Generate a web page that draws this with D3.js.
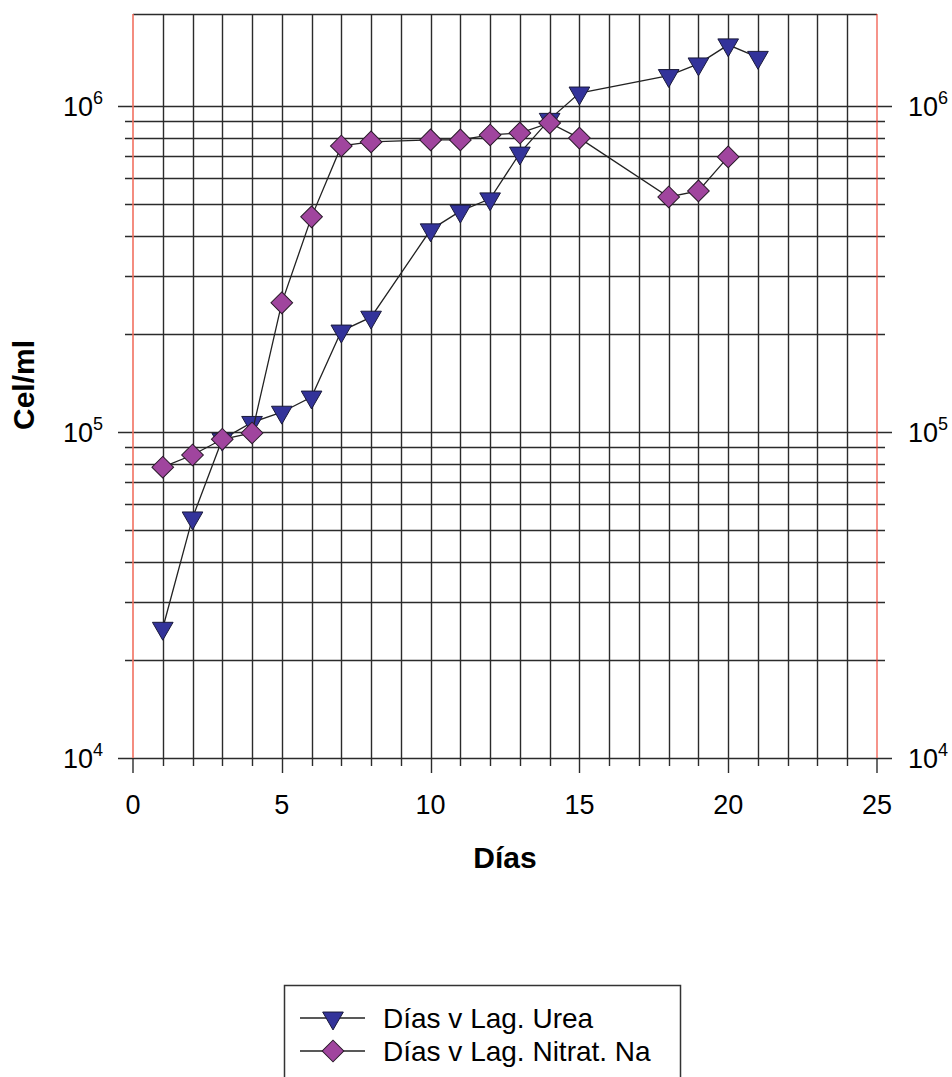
<!DOCTYPE html>
<html>
<head>
<meta charset="utf-8">
<script src="https://cdn.jsdelivr.net/npm/d3@7"></script>
<style>
  body { margin: 0; background: #fff; }
  text { font-family: "Liberation Sans", Arial, sans-serif; fill: #000; }
</style>
</head>
<body>
<div id="chart"></div>
<script>
/* Cel/ml vs days, log scale, two cultures */

const dias = [1, 2, 3, 4, 5, 6, 7, 8, 10, 11, 12, 13, 14, 15, 18, 19, 20, 21];
const urea = [2.5e4, 5.45e4, 9.5e4, 1.07e5, 1.15e5, 1.28e5, 2.04e5, 2.25e5, 4.17e5, 4.76e5,
              5.19e5, 7.17e5, 9.1e5, 1.096e6, 1.24e6, 1.346e6, 1.54e6, 1.41e6];

const diasNitrat = [1, 2, 3, 4, 5, 6, 7, 8, 10, 11, 12, 13, 14, 15, 18, 19, 20];
const nitrat = [7.8e4, 8.5e4, 9.5e4, 9.93e4, 2.49e5, 4.57e5, 7.54e5, 7.76e5, 7.87e5, 7.87e5,
                8.15e5, 8.26e5, 8.87e5, 7.97e5, 5.26e5, 5.49e5, 6.98e5];

const xTicks = [0, 5, 10, 15, 20, 25];
const yMajor = [4, 5, 6]; // exponents of 10
const seriesNames = ["Días v Lag. Urea", "Días v Lag. Nitrat. Na"];

const width = 952, height = 1077,
      margin = ({ top: 14, right: 75, bottom: 319, left: 133 });

let svg = d3.select("#chart")
    .append("svg")
    .attr("width", width)
    .attr("height", height);

let x = d3.scaleLinear()
    .domain([0, 25])
    .range([margin.left, width - margin.right]);

let y = d3.scaleLog()
    .domain([1e4, 1.915e6])
    .range([height - margin.bottom, margin.top]);

const x0 = x(0), x1 = x(25);

// horizontal grid + ticks on both sides
let yLines = [];
for (let e = 4; e <= 6; e++) {
    for (let m = 1; m <= 9; m++) {
        let v = m * Math.pow(10, e);
        if (v <= y.domain()[1]) yLines.push({ v: v, major: m === 1 });
    }
}
svg.append("g")
    .selectAll("line")
    .data(yLines)
    .join("line")
    .attr("x1", d => x0 - (d.major ? 15 : 8))
    .attr("x2", d => x1 + (d.major ? 15 : 8))
    .attr("y1", d => Math.round(y(d.v)) + 0.5)
    .attr("y2", d => Math.round(y(d.v)) + 0.5)
    .attr("stroke", "#2b2b2b")
    .attr("stroke-width", 1.4);

// vertical grid + ticks below
svg.append("g")
    .selectAll("line")
    .data(d3.range(1, 25))
    .join("line")
    .attr("x1", d => Math.round(x(d)) + 0.5)
    .attr("x2", d => Math.round(x(d)) + 0.5)
    .attr("y1", y.range()[1])
    .attr("y2", d => y.range()[0] + (d % 5 === 0 ? 15 : 8))
    .attr("stroke", "#2b2b2b")
    .attr("stroke-width", 1.4);

// top border
svg.append("line")
    .attr("x1", x0).attr("x2", x1)
    .attr("y1", margin.top + 0.5).attr("y2", margin.top + 0.5)
    .attr("stroke", "#2b2b2b")
    .attr("stroke-width", 1.6);

// red side lines (x = 0 and x = 25)
svg.append("g")
    .selectAll("line")
    .data([0, 25])
    .join("line")
    .attr("x1", d => x(d)).attr("x2", d => x(d))
    .attr("y1", margin.top)
    .attr("y2", y.range()[0])
    .attr("stroke", (d, i) => i === 0 ? "#f27060" : "#ee3b2b")
    .attr("stroke-width", (d, i) => i === 0 ? 1.6 : 1.1);
svg.append("g")
    .selectAll("line")
    .data([0, 25])
    .join("line")
    .attr("x1", d => x(d)).attr("x2", d => x(d))
    .attr("y1", y.range()[0])
    .attr("y2", y.range()[0] + 15)
    .attr("stroke", "#2b2b2b")
    .attr("stroke-width", 1.4);

// x tick labels
svg.append("g")
    .selectAll("text")
    .data(xTicks)
    .join("text")
    .attr("x", d => x(d))
    .attr("y", 814)
    .attr("text-anchor", "middle")
    .style("font-size", "27px")
    .text(d => d);

// y tick labels, left and right
function powLabel(g, side) {
    let t = g.selectAll("text." + side)
        .data(yMajor)
        .join("text")
        .attr("class", side)
        .attr("x", side === "left" ? x0 - 30 : x1 + 31)
        .attr("y", d => y(Math.pow(10, d)) + 10)
        .attr("text-anchor", side === "left" ? "end" : "start")
        .style("font-size", "27px");
    t.append("tspan").text("10");
    t.append("tspan")
        .attr("dy", -12)
        .style("font-size", "18px")
        .text(d => d);
}
let yl = svg.append("g");
powLabel(yl, "left");
powLabel(yl, "right");

// axis titles
svg.append("text")
    .attr("x", (x0 + x1) / 2)
    .attr("y", 868)
    .attr("text-anchor", "middle")
    .style("font-size", "30px")
    .style("font-weight", "bold")
    .text("Días");

svg.append("text")
    .attr("transform", "translate(34,385) rotate(-90)")
    .attr("text-anchor", "middle")
    .style("font-size", "30px")
    .style("font-weight", "bold")
    .text("Cel/ml");

// series
const triangle = d3.symbol().type(d3.symbolTriangle).size(185);
const diamond = d3.symbol().type(d3.symbolSquare).size(235);

let line = d3.line()
    .x(d => x(d[0]))
    .y(d => y(d[1]));

let ureaData = dias.map((d, i) => [d, urea[i]]);
let nitratData = diasNitrat.map((d, i) => [d, nitrat[i]]);

svg.append("path")
    .datum(ureaData)
    .attr("fill", "none")
    .attr("stroke", "#222")
    .attr("stroke-width", 1.3)
    .attr("d", line);

svg.append("g")
    .selectAll("path")
    .data(ureaData)
    .join("path")
    .attr("d", triangle)
    .attr("transform", d => `translate(${x(d[0])},${y(d[1])}) rotate(180)`)
    .attr("fill", "#33339a")
    .attr("stroke", "#1a1a3a")
    .attr("stroke-width", 1);

svg.append("path")
    .datum(nitratData)
    .attr("fill", "none")
    .attr("stroke", "#222")
    .attr("stroke-width", 1.3)
    .attr("d", line);

svg.append("g")
    .selectAll("path")
    .data(nitratData)
    .join("path")
    .attr("d", diamond)
    .attr("transform", d => `translate(${x(d[0])},${y(d[1])}) rotate(45)`)
    .attr("fill", "#a0459e")
    .attr("stroke", "#2a1a2a")
    .attr("stroke-width", 1);

// legend
let legend = svg.append("g");
legend.append("rect")
    .attr("x", 284.5)
    .attr("y", 985.5)
    .attr("width", 396)
    .attr("height", 130)
    .attr("fill", "#fff")
    .attr("stroke", "#333")
    .attr("stroke-width", 1.5);

let item = legend.selectAll("g.item")
    .data(seriesNames)
    .join("g")
    .attr("class", "item")
    .attr("transform", (d, i) => `translate(0,${1018 + i * 33})`);

item.append("line")
    .attr("x1", 300).attr("x2", 365)
    .attr("stroke", "#222")
    .attr("stroke-width", 1.3);

item.append("path")
    .attr("d", (d, i) => i === 0 ? triangle() : diamond())
    .attr("transform", (d, i) => `translate(333,0) rotate(${i === 0 ? 180 : 45})`)
    .attr("fill", (d, i) => i === 0 ? "#33339a" : "#a0459e")
    .attr("stroke", (d, i) => i === 0 ? "#1a1a3a" : "#2a1a2a");

item.append("text")
    .attr("x", 383)
    .attr("y", 10)
    .style("font-size", "28px")
    .text(d => d);
</script>
</body>
</html>
